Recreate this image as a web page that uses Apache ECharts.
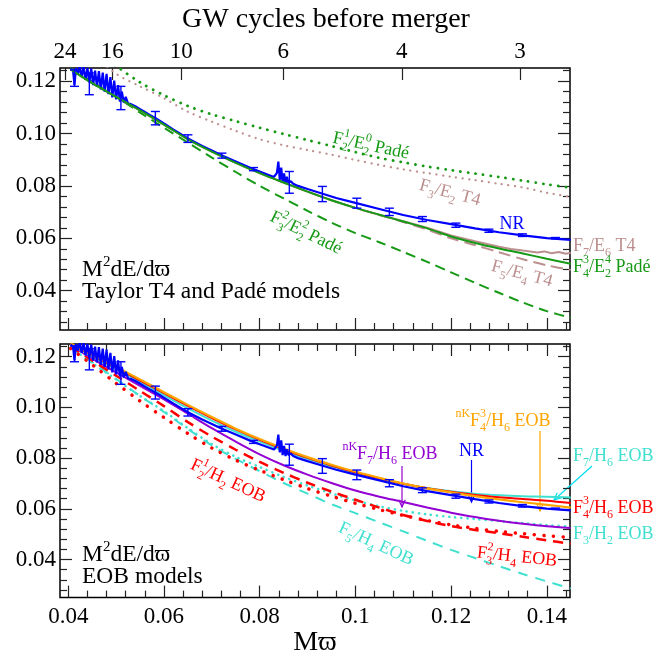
<!DOCTYPE html>
<html><head><meta charset="utf-8">
<script src="https://cdn.jsdelivr.net/npm/echarts@6/dist/echarts.min.js"></script>
<style>html,body{margin:0;padding:0;background:#fff}#c{width:660px;height:658px}</style>
</head><body><div id="c"></div>
<script>
// ---------- data ----------
const xs = [0.0405,0.045,0.05,0.055,0.06,0.065,0.07,0.075,0.08,0.085,0.09,0.095,0.10,0.105,0.11,0.115,0.12,0.125,0.13,0.135,0.14,0.145];

// NR (numerical relativity), noisy at low frequency
const nrX = [0.0405,0.0410,0.0413,0.0416,0.0420,0.0424,0.0428,0.0432,0.0436,0.0440,0.0444,0.0448,0.0452,0.0456,0.0460,0.0464,0.0468,0.0472,0.0476,0.0480,0.0484,0.0488,0.0492,0.0496,0.0500,0.0504,0.0508,0.0512,0.0516,0.0520,0.0525,0.0530,0.0540,0.0550,0.0560,0.0570,0.0580,0.0590,0.0600,0.0620,0.0650,0.0680,0.0700,0.0720,0.0750,0.0780,0.0800,0.0820,0.0830,0.0836,0.0839,0.0842,0.0845,0.0848,0.0851,0.0854,0.0857,0.0860,0.0865,0.0870,0.0880,0.0900,0.0930,0.0960,0.1000,0.1050,0.1100,0.1150,0.1200,0.1250,0.1300,0.1350,0.1400,0.1450];
const nrY = [0.1248,0.1240,0.1185,0.1250,0.1225,0.1258,0.1215,0.1255,0.1205,0.1250,0.1195,0.1248,0.1185,0.1240,0.1178,0.1238,0.1168,0.1232,0.1160,0.1228,0.1150,0.1215,0.1138,0.1202,0.1130,0.1185,0.1122,0.1160,0.1118,0.1140,0.1114,0.1113,0.1104,0.1093,0.1082,0.1071,0.1061,0.1050,0.1038,0.1015,0.0981,0.0952,0.0935,0.0917,0.0893,0.0869,0.0855,0.0841,0.0834,0.0850,0.0893,0.0823,0.0870,0.0812,0.0848,0.0808,0.0835,0.0812,0.0818,0.0808,0.0800,0.0788,0.0771,0.0754,0.0735,0.0712,0.0689,0.0670,0.0654,0.0638,0.0623,0.0611,0.0601,0.0594];
const errX  = [0.0413,0.0444,0.0510,0.0582,0.0650,0.0721,0.0787,0.0862,0.0931,0.1003,0.1071,0.1140,0.1210,0.1279,0.1349,0.1418];
const errLo = [0.1180,0.1148,0.1091,0.1033,0.0966,0.0906,0.0858,0.0772,0.0740,0.0715,0.0687,0.0664,0.0642,0.0623,0.0607,0.0598];
const errHi = [0.1243,0.1231,0.1180,0.1084,0.0995,0.0925,0.0870,0.0855,0.0798,0.0753,0.0715,0.0683,0.0658,0.0635,0.0617,0.0603];

// Top panel: Taylor T4 and Pade models
const padeF21E20 = [0.1420,0.1330,0.1258,0.1195,0.1146,0.1105,0.1073,0.1047,0.1022,0.0998,0.0975,0.0952,0.0929,0.0907,0.0890,0.0874,0.0860,0.0847,0.0834,0.0820,0.0806,0.0793];
const t4F3E2     = [0.1400,0.1310,0.1228,0.1180,0.1135,0.1083,0.1045,0.1010,0.0978,0.0955,0.0937,0.0919,0.0899,0.0880,0.0863,0.0849,0.0835,0.0822,0.0808,0.0794,0.0774,0.0758];
const padeF32E22 = [0.1250,0.1197,0.1140,0.1080,0.1022,0.0965,0.0908,0.0853,0.0800,0.0752,0.0705,0.0660,0.0620,0.0585,0.0548,0.0510,0.0470,0.0430,0.0392,0.0355,0.0322,0.0297];
const padeF43E24 = [0.1245,0.1192,0.1140,0.1088,0.1034,0.0978,0.0931,0.0888,0.0849,0.0813,0.0778,0.0745,0.0716,0.0690,0.0664,0.0638,0.0607,0.0582,0.0561,0.0542,0.0522,0.0503];
const t4F5E4     = [0.1245,0.1192,0.1140,0.1088,0.1034,0.0978,0.0931,0.0888,0.0849,0.0813,0.0778,0.0745,0.0716,0.0689,0.0662,0.0633,0.0600,0.0574,0.0547,0.0520,0.0497,0.0479];
const t4F7E6X = [0.0405,0.045,0.05,0.055,0.06,0.065,0.07,0.075,0.08,0.085,0.09,0.095,0.10,0.105,0.11,0.115,0.12,0.125,0.13,0.1325,0.135,0.1365,0.138,0.1395,0.141,0.1425,0.144,0.145];
const t4F7E6Y = [0.1245,0.1192,0.1140,0.1088,0.1034,0.0978,0.0931,0.0888,0.0849,0.0813,0.0778,0.0745,0.0716,0.0690,0.0665,0.0640,0.0611,0.0589,0.0568,0.0559,0.0553,0.0550,0.0546,0.0550,0.0543,0.0548,0.0541,0.0545];

// Bottom panel: EOB models
const eobNkF43H6 = [0.1252,0.1208,0.1160,0.1110,0.1060,0.1010,0.0962,0.0916,0.0875,0.0838,0.0804,0.0774,0.0747,0.0722,0.0700,0.0681,0.0665,0.0650,0.0637,0.0626,0.0616,0.0605];
const eobF43H6   = [0.1250,0.1205,0.1156,0.1106,0.1056,0.1006,0.0958,0.0913,0.0872,0.0835,0.0801,0.0771,0.0744,0.0720,0.0699,0.0681,0.0667,0.0655,0.0646,0.0639,0.0632,0.0623];
const eobF7H6    = [0.1248,0.1200,0.1150,0.1100,0.1048,0.0996,0.0948,0.0904,0.0865,0.0829,0.0797,0.0768,0.0742,0.0719,0.0699,0.0682,0.0669,0.0660,0.0654,0.0650,0.0648,0.0645];
const eobNkF7H6  = [0.1245,0.1192,0.1138,0.1085,0.1032,0.0975,0.0918,0.0865,0.0815,0.0772,0.0735,0.0702,0.0672,0.0648,0.0627,0.0605,0.0585,0.0568,0.0553,0.0541,0.0531,0.0524];
const eobF21H2   = [0.1232,0.1168,0.1095,0.1025,0.0960,0.0897,0.0840,0.0792,0.0752,0.0715,0.0680,0.0650,0.0622,0.0597,0.0574,0.0554,0.0537,0.0523,0.0511,0.0502,0.0494,0.0487];
const eobF32H4   = [0.1240,0.1185,0.1125,0.1065,0.1005,0.0942,0.0885,0.0833,0.0785,0.0742,0.0703,0.0668,0.0636,0.0605,0.0576,0.0552,0.0532,0.0517,0.0504,0.0490,0.0476,0.0462];
const eobF3H2    = [0.1236,0.1175,0.1110,0.1045,0.0985,0.0918,0.0855,0.0805,0.0765,0.0726,0.0692,0.0661,0.0633,0.0610,0.0592,0.0578,0.0568,0.0560,0.0552,0.0544,0.0536,0.0530];
const eobF5H4    = [0.1236,0.1178,0.1112,0.1045,0.0982,0.0915,0.0850,0.0797,0.0748,0.0702,0.0660,0.0618,0.0583,0.0547,0.0511,0.0474,0.0438,0.0406,0.0374,0.0343,0.0314,0.0286];

// Ticks
const xMajor = [0.04,0.06,0.08,0.10,0.12,0.14];
const xTickLabels = ['0.04','0.06','0.08','0.1','0.12','0.14'];
const yMajor = [0.04,0.06,0.08,0.10,0.12];
const yTickLabels = ['0.04','0.06','0.08','0.10','0.12'];
const cycleX = [0.0393,0.0492,0.0636,0.0849,0.1097,0.1344];
const cycleLabels = ['24','16','10','6','4','3'];

// ---------- chart ----------
const FONT = 'Liberation Serif';
const X_MIN = 0.03827, X_MAX = 0.14485, Y_MIN = 0.025, Y_MAX = 0.125;
const GREEN = '#169a16', ROSY = '#bc8f8f', BLUE = '#0000ff', RED = '#ff0000',
      TURQ = '#40e0d0', PURPLE = '#9400d3', ORANGE = '#ffa500', CYAN = '#00dff0';

function minors(majors, lo, hi) {
  const step = (majors[1] - majors[0]) / 5, out = [];
  for (let k = -20; k <= 100; k++) {
    const v = +(majors[0] + k * step).toFixed(6);
    if (v > lo && v < hi && k % 5 !== 0) out.push(v);
  }
  return out;
}
const xMinor = minors(xMajor, X_MIN, X_MAX);
const yMinor = minors(yMajor, Y_MIN, Y_MAX);
function nearest(arr, v) { let b = 0; for (let i = 1; i < arr.length; i++) if (Math.abs(arr[i]-v) < Math.abs(arr[b]-v)) b = i; return b; }

const tickStyle = {color:'#222', width:1.2};
function xAx(gi, pos, vals, len, label, extra) {
  return Object.assign({type:'value', gridIndex:gi, position:pos, min:X_MIN, max:X_MAX,
    axisLine:{show:false}, splitLine:{show:false},
    axisTick:{show:true, inside:true, length:len, customValues:vals, lineStyle:tickStyle},
    axisLabel: label || {show:false}}, extra || {});
}
function yAx(gi, pos, vals, len, label) {
  return {type:'value', gridIndex:gi, position:pos, min:Y_MIN, max:Y_MAX,
    axisLine:{show:false}, splitLine:{show:false},
    axisTick:{show:true, inside:true, length:len, customValues:vals, lineStyle:tickStyle},
    axisLabel: label || {show:false}};
}
const labRich = {t:{fontFamily:FONT, fontSize:23, color:'#000', lineHeight:24}};
const nameRich = {t:{fontFamily:FONT, fontSize:28, color:'#000', lineHeight:30}};
const labFont = {fontFamily:FONT, fontSize:23, color:'#000', rich:labRich};
const xLab = Object.assign({show:true, customValues:xMajor, margin:7,
  formatter: v => '{t|' + xTickLabels[nearest(xMajor, v)] + '}'}, labFont);
const yLab = Object.assign({show:true, customValues:yMajor, margin:4,
  formatter: v => '{t|' + yTickLabels[nearest(yMajor, v)] + '}'}, labFont);
const cycLab = Object.assign({show:true, customValues:cycleX, margin:4,
  formatter: v => '{t|' + cycleLabels[nearest(cycleX, v)] + '}'}, labFont);

const xAxis = [
  xAx(0,'bottom',xMajor,12),
  xAx(0,'bottom',xMinor,7),
  xAx(0,'top',cycleX,12,cycLab,{name:'{t|GW cycles before merger}', nameLocation:'middle', nameGap:33,
     nameTextStyle:{fontFamily:FONT, fontSize:28, color:'#000', padding:[0,0,0,22], rich:nameRich}}),
  xAx(1,'bottom',xMajor,12,xLab,{name:'{t|M\u03d6}', nameLocation:'middle', nameGap:28,
     nameTextStyle:{fontFamily:FONT, fontSize:28, color:'#000', rich:nameRich}}),
  xAx(1,'bottom',xMinor,7),
  xAx(1,'top',xMajor,12),
  xAx(1,'top',xMinor,7)
];
const yAxis = [
  yAx(0,'left',yMajor,12,yLab), yAx(0,'left',yMinor,7),
  yAx(0,'right',yMajor,12), yAx(0,'right',yMinor,7),
  yAx(1,'left',yMajor,12,yLab), yAx(1,'left',yMinor,7),
  yAx(1,'right',yMajor,12), yAx(1,'right',yMinor,7)
];

function ln(gi, xArr, yArr, color, width, dash, cap, smooth) {
  return {type:'line', xAxisIndex: gi ? 3 : 0, yAxisIndex: gi ? 4 : 0,
    data: xArr.map((x,i) => [x, yArr[i]]), showSymbol:false, symbol:'none',
    smooth: smooth === undefined ? 0.3 : smooth, clip:true, silent:true, z:2,
    lineStyle:{color, width, type: dash || 'solid', cap: cap || 'butt'}};
}
function errBars(gi) {
  return {type:'custom', xAxisIndex: gi ? 3 : 0, yAxisIndex: gi ? 4 : 0, silent:true, z:4,
    data: errX.map((x,i) => [x, errLo[i], errHi[i]]),
    renderItem: (params, api) => {
      const lo = api.coord([api.value(0), api.value(1)]);
      const hi = api.coord([api.value(0), api.value(2)]);
      const w = 4.5, st = {stroke: BLUE, lineWidth: 1.4};
      return {type:'group', children:[
        {type:'line', shape:{x1:lo[0], y1:lo[1], x2:hi[0], y2:hi[1]}, style:st},
        {type:'line', shape:{x1:lo[0]-w, y1:lo[1], x2:lo[0]+w, y2:lo[1]}, style:st},
        {type:'line', shape:{x1:hi[0]-w, y1:hi[1], x2:hi[0]+w, y2:hi[1]}, style:st}
      ]};
    }};
}

const series = [
  // top
  ln(0, xs, t4F3E2, ROSY, 2.2, [0.1, 6.5], 'round'),
  ln(0, xs, padeF21E20, GREEN, 2.8, [0.1, 7.5], 'round'),
  ln(0, xs, padeF32E22, GREEN, 2, [10, 6]),
  ln(0, xs, t4F5E4, ROSY, 2, [12, 6]),
  ln(0, t4F7E6X, t4F7E6Y, ROSY, 2, 'solid', 'butt', false),
  ln(0, nrX, nrY, BLUE, 2.2, 'solid', 'butt', false),
  ln(0, xs, padeF43E24, GREEN, 2),
  errBars(0),
  // bottom
  ln(1, xs, eobF5H4, TURQ, 2, [10, 8]),
  ln(1, xs, eobF3H2, TURQ, 2.6, [0.1, 6], 'round'),
  ln(1, xs, eobF32H4, RED, 2.5, [10, 7]),
  ln(1, xs, eobF21H2, RED, 3.5, [0.1, 9.5], 'round'),
  ln(1, xs, eobNkF7H6, PURPLE, 2),
  ln(1, xs, eobF7H6, TURQ, 2),
  ln(1, xs, eobF43H6, RED, 2),
  ln(1, xs, eobNkF43H6, ORANGE, 2.2),
  ln(1, nrX, nrY, BLUE, 2.2, 'solid', 'butt', false),
  errBars(1)
];

// ---------- annotations ----------
function rich(color, size) {
  const s = Math.round(size * 0.64);
  const base = {fontFamily:FONT, fill:color, color:color};
  return {
    n: Object.assign({fontSize:size, lineHeight:size + 8}, base),
    sp: Object.assign({fontSize:s, lineHeight:s + 1, verticalAlign:'top'}, base),
    sb: Object.assign({fontSize:s, lineHeight:s + 1, verticalAlign:'bottom'}, base),
    st: Object.assign({fontSize:s, lineHeight:s + 1, verticalAlign:'top', padding:[0, -Math.round(s*0.5), 0, 0]}, base)
  };
}
function txt(x, y, t, color, size, rot, align) {
  return {type:'text', x, y, rotation:(rot || 0) * Math.PI / 180, silent:true, z:100,
    style:{text:t, rich:rich(color, size), fill:color, fontFamily:FONT, fontSize:size,
      align: align || 'center', verticalAlign:'middle'}};
}
function arrow(x1, y1, x2, y2, color) {
  const a = Math.atan2(y2 - y1, x2 - x1), h = 8, w = 0.42;
  return {type:'group', silent:true, z:100, children:[
    {type:'line', shape:{x1, y1, x2, y2}, style:{stroke:color, lineWidth:1.2}},
    {type:'polyline', shape:{points:[[x2 - h*Math.cos(a - w), y2 - h*Math.sin(a - w)], [x2, y2],
      [x2 - h*Math.cos(a + w), y2 - h*Math.sin(a + w)]]}, style:{stroke:color, lineWidth:1.2, fill:null}}
  ]};
}

const graphic = [
  // top panel
  txt(371, 146, '{n|F}{st|1}{sb|2}{n|/E}{st|0}{sb|2}{n| Padé}', GREEN, 18, -12),
  txt(450, 193, '{n|F}{sb|3}{n|/E}{sb|2}{n| T4}', ROSY, 18, -15),
  txt(306, 233, '{n|F}{st|2}{sb|3}{n|/E}{st|2}{sb|2}{n| Padé}', GREEN, 18, -26),
  txt(512, 224, '{n|NR}', BLUE, 18, 0),
  txt(573, 246, '{n|F}{sb|7}{n|/E}{sb|6}{n| T4}', ROSY, 18, 0, 'left'),
  txt(573, 267, '{n|F}{st|3}{sb|4}{n|/E}{st|4}{sb|2}{n| Padé}', GREEN, 18, 0, 'left'),
  txt(522, 274, '{n|F}{sb|5}{n|/E}{sb|4}{n| T4}', ROSY, 18, -15),
  txt(82, 270, '{n|M}{sp|2}{n|dE/d\u03d6}', '#000', 23.5, 0, 'left'),
  txt(82, 292, '{n|Taylor T4 and Padé models}', '#000', 23.5, 0, 'left'),
  // bottom panel
  txt(228, 481, '{n|F}{st|1}{sb|2}{n|/H}{sb|2}{n| EOB}', RED, 18, -25),
  txt(376, 544, '{n|F}{sb|5}{n|/H}{sb|4}{n| EOB}', TURQ, 18, -25),
  txt(390, 454, '{sp|nK}{n|F}{sb|7}{n|/H}{sb|6}{n| EOB}', PURPLE, 18, 0),
  txt(471.5, 451, '{n|NR}', BLUE, 18, 0),
  txt(503, 421, '{sp|nK}{n|F}{st|3}{sb|4}{n|/H}{sb|6}{n| EOB}', ORANGE, 18, 0),
  txt(573, 456, '{n|F}{sb|7}{n|/H}{sb|6}{n| EOB}', TURQ, 18, 0, 'left'),
  txt(573, 508, '{n|F}{st|3}{sb|4}{n|/H}{sb|6}{n| EOB}', RED, 18, 0, 'left'),
  txt(573, 534, '{n|F}{sb|3}{n|/H}{sb|2}{n| EOB}', TURQ, 18, 0, 'left'),
  txt(517, 557, '{n|F}{st|2}{sb|3}{n|/H}{sb|4}{n| EOB}', RED, 18, -6),
  txt(82, 555, '{n|M}{sp|2}{n|dE/d\u03d6}', '#000', 23.5, 0, 'left'),
  txt(82, 577, '{n|EOB models}', '#000', 23.5, 0, 'left'),
  arrow(402, 466, 402, 507, PURPLE),
  arrow(471.5, 460, 471.5, 502, BLUE),
  arrow(540, 431, 540, 511, ORANGE),
  arrow(592, 466, 554, 500, CYAN)
];

const chart = echarts.init(document.getElementById('c'));
chart.setOption({
  animation:false,
  backgroundColor:'#fff',
  textStyle:{fontFamily:FONT},
  grid:[{left:60, top:68, width:510, height:262, show:true, borderColor:'#000', borderWidth:1.5, backgroundColor:'rgba(0,0,0,0)'},
        {left:60, top:344, width:510, height:262, show:true, borderColor:'#000', borderWidth:1.5, backgroundColor:'rgba(0,0,0,0)'}],
  xAxis, yAxis, series, graphic
});
</script></body></html>
